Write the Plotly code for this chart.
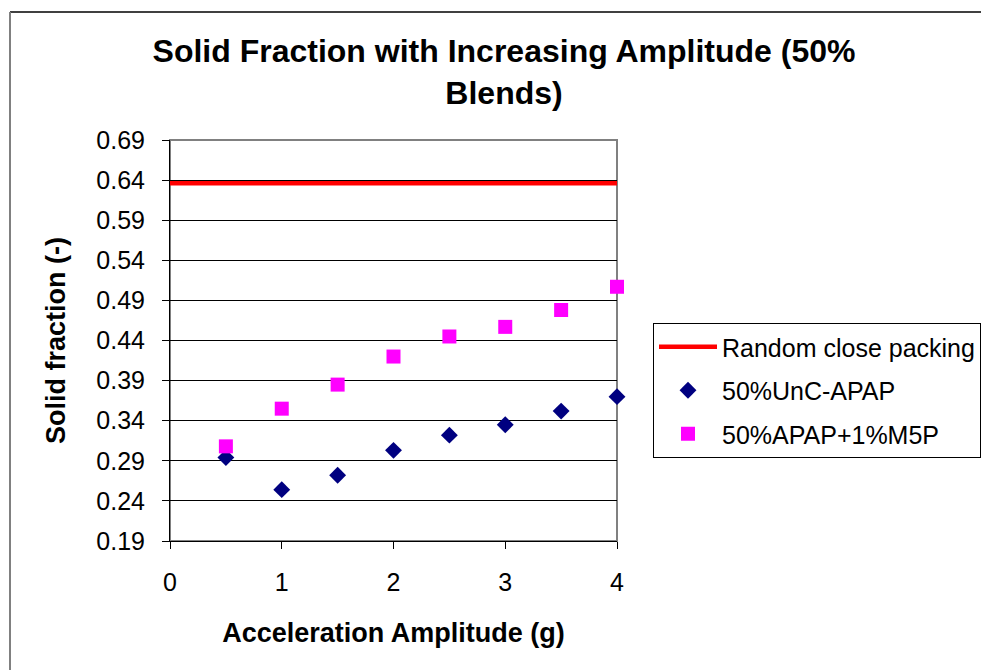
import plotly.graph_objects as go

# Data
amplitude = [0.5, 1.0, 1.5, 2.0, 2.5, 3.0, 3.5, 4.0]
unc_apap = [0.294, 0.254, 0.272, 0.303, 0.322, 0.335, 0.352, 0.370]
apap_m5p = [0.308, 0.355, 0.385, 0.420, 0.445, 0.457, 0.478, 0.507]
rcp_x = [0, 4]
rcp_y = [0.636, 0.636]
y_ticks = [0.19, 0.24, 0.29, 0.34, 0.39, 0.44, 0.49, 0.54, 0.59, 0.64, 0.69]
x_ticks = [0, 1, 2, 3, 4]

FONT = "Arial, 'Liberation Sans', sans-serif"

W, H = 981, 670
L, R, T, B = 170, 617, 140, 541

def px(xp):
    return (xp - L) / (R - L)

def py(yp):
    return (B - yp) / (B - T)

fig = go.Figure()
fig.add_trace(go.Scatter(
    x=rcp_x, y=rcp_y, mode="lines", name="Random close packing",
    line=dict(color="#FF0000", width=4.5), legendgroup="a", cliponaxis=False))
fig.add_trace(go.Scatter(
    x=amplitude, y=unc_apap, mode="markers", name="50%UnC-APAP",
    marker=dict(symbol="diamond", size=13, color="#000080"), legendgroup="b", cliponaxis=False))
fig.add_trace(go.Scatter(
    x=amplitude, y=apap_m5p, mode="markers", name="50%APAP+1%M5P",
    marker=dict(symbol="square", size=14, color="#FF00FF"), legendgroup="c", cliponaxis=False))

shapes = [
    # plot area frame (gray)
    dict(type="rect", xref="paper", yref="paper", x0=0, x1=1, y0=0, y1=1,
         line=dict(color="#808080", width=2), layer="below"),
    # outer chart border
    dict(type="line", xref="paper", yref="paper", x0=px(10), x1=px(981), y0=py(12), y1=py(12),
         line=dict(color="#000000", width=1.5)),
    dict(type="line", xref="paper", yref="paper", x0=px(10), x1=px(10), y0=py(12), y1=py(672),
         line=dict(color="#808080", width=2)),
]

fig.update_layout(
    width=W, height=H,
    margin=dict(l=L, r=W - R, t=T, b=H - B),
    paper_bgcolor="white", plot_bgcolor="white",
    font=dict(family=FONT, size=25, color="#000000"),
    title=dict(text="<b>Solid Fraction with Increasing Amplitude (50%<br>Blends)</b>",
               x=504 / W, xref="container", xanchor="center",
               y=1 - 62 / H, yref="container", yanchor="top",
               font=dict(family=FONT, size=32, color="#000000")),
    xaxis=dict(range=[0, 4], tickvals=x_ticks, ticktext=[str(v) for v in x_ticks],
               showgrid=False, zeroline=False, showline=True, linecolor="#000000", linewidth=1,
               ticks="outside", ticklen=7, tickcolor="#000000", ticklabelstandoff=12,
               title=dict(text="<b>Acceleration Amplitude (g)</b>", standoff=28,
                          font=dict(family=FONT, size=27))),
    yaxis=dict(range=[0.19, 0.69], tickvals=y_ticks, ticktext=[f"{v:.2f}" for v in y_ticks],
               showgrid=True, gridcolor="#000000", gridwidth=1, zeroline=False,
               showline=True, linecolor="#000000", linewidth=1,
               ticks="outside", ticklen=7, tickcolor="#000000", ticklabelstandoff=12,
               title=dict(text="<b>Solid fraction (-)</b>", standoff=22,
                          font=dict(family=FONT, size=27))),
    legend=dict(x=653 / W, y=1 - 323 / H, xref="container", yref="container",
                xanchor="left", yanchor="top",
                bordercolor="#000000", borderwidth=1, bgcolor="white",
                font=dict(family=FONT, size=25), traceorder="grouped",
                tracegroupgap=8, itemwidth=58),
    showlegend=True,
    shapes=shapes,
)

fig.write_html("out.html", config={"displayModeBar": False},
               post_script="document.body.style.margin='0px';")
